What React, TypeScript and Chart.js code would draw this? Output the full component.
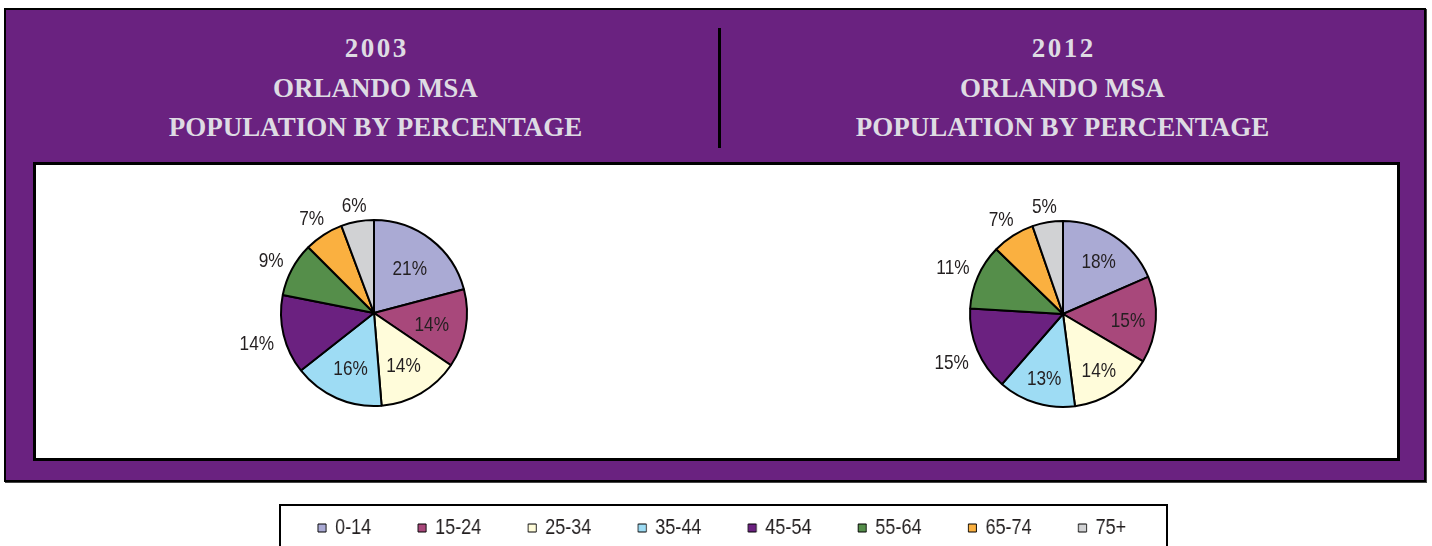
import React, { useEffect, useRef } from "react";
import { Chart, registerables } from "chart.js";

Chart.register(...registerables);

// ---------- data ----------
const AGE_GROUPS = ["0-14", "15-24", "25-34", "35-44", "45-54", "55-64", "65-74", "75+"];
const SHARE_2003 = [20.9, 13.6, 14.2, 15.7, 13.7, 9.4, 6.8, 5.7];
const SHARE_2012 = [18.4, 15.0, 14.4, 13.4, 14.5, 11.3, 7.4, 5.3];
const YEAR_2003 = "2003";
const YEAR_2012 = "2012";
const SUBTITLE_LINES = ["ORLANDO MSA", "POPULATION BY PERCENTAGE"];
const LABEL_PLACEMENT = ["inside", "inside", "inside", "inside", "outside", "outside", "outside", "outside"];

// ---------- styles ----------
const COLORS = ["#AAAAD4", "#A8487B", "#FFFCDA", "#9EDCF4", "#6B2180", "#558E4A", "#FAB040", "#D1D2D4"];
const PURPLE = "#6A2280";
const TITLE_COLOR = "#DEDBE3";
const LABEL_FONT = "'Liberation Sans', Arial, sans-serif";
const TEXT_COLOR = "#231F20";
const NARROW = 0.82; // horizontal squeeze to imitate a narrow sans face

function makeLabelPlugin(insideFactor: number) {
  return {
    id: "pieLabels",
    afterDatasetsDraw(chart: any) {
      const ctx = chart.ctx as CanvasRenderingContext2D;
      const meta = chart.getDatasetMeta(0);
      const values = chart.data.datasets[0].data as number[];
      const size = 21;
      const capH = size * 0.716;
      ctx.save();
      ctx.font = `${size}px ${LABEL_FONT}`;
      ctx.fillStyle = TEXT_COLOR;
      ctx.textAlign = "center";
      ctx.textBaseline = "alphabetic";
      meta.data.forEach((arc: any, i: number) => {
        const { x, y, startAngle, endAngle, outerRadius } = arc.getProps(
          ["x", "y", "startAngle", "endAngle", "outerRadius"],
          true
        );
        const a = (startAngle + endAngle) / 2;
        const text = `${Math.round(values[i])}%`;
        const w = ctx.measureText(text).width * NARROW;
        let d: number;
        if (LABEL_PLACEMENT[i] === "inside") {
          d = outerRadius * insideFactor;
        } else {
          d = outerRadius + 9 + (Math.abs(Math.cos(a)) * w) / 2 + (Math.abs(Math.sin(a)) * capH) / 2;
        }
        const lx = x + Math.cos(a) * d;
        const ly = y + Math.sin(a) * d;
        ctx.save();
        ctx.translate(lx, ly + capH / 2 + 1);
        ctx.scale(NARROW, 1);
        ctx.fillText(text, 0, 0);
        ctx.restore();
      });
      ctx.restore();
    },
  };
}

function PieChart({
  values,
  left,
  top,
  insideFactor,
}: {
  values: number[];
  left: number;
  top: number;
  insideFactor: number;
}) {
  const ref = useRef<HTMLCanvasElement>(null);
  useEffect(() => {
    const chart = new Chart(ref.current as HTMLCanvasElement, {
      type: "pie",
      data: {
        labels: AGE_GROUPS,
        datasets: [
          {
            data: values,
            backgroundColor: COLORS,
            borderColor: "#000",
            borderWidth: 2,
            hoverBorderWidth: 2,
          },
        ],
      },
      options: {
        responsive: false,
        animation: false,
        events: [],
        layout: { padding: { top: 46, bottom: 46, left: 0, right: 0 } },
        plugins: { legend: { display: false }, tooltip: { enabled: false }, title: { display: false } },
      },
      plugins: [makeLabelPlugin(insideFactor)],
    } as any);
    return () => chart.destroy();
  }, [values, insideFactor]);
  return (
    <canvas
      ref={ref}
      width={320}
      height={280}
      style={{ position: "absolute", left, top, width: 320, height: 280 }}
    />
  );
}

// Legend canvas is drawn at 1/NARROW width and squeezed back by CSS,
// which gives the narrow face of the original legend.
function LegendChart({ left, top }: { left: number; top: number }) {
  const ref = useRef<HTMLCanvasElement>(null);
  const cssW = 1000;
  const cssH = 300;
  const attrW = Math.round(cssW / NARROW);
  useEffect(() => {
    const ov: any = (Chart as any).overrides;
    const base =
      (ov.pie && ov.pie.plugins && ov.pie.plugins.legend && ov.pie.plugins.legend.labels.generateLabels) ||
      ov.doughnut.plugins.legend.labels.generateLabels;
    const chart = new Chart(ref.current as HTMLCanvasElement, {
      type: "pie",
      data: {
        labels: AGE_GROUPS,
        datasets: [{ data: SHARE_2003, backgroundColor: COLORS, borderWidth: 0, radius: 0 }],
      },
      options: {
        responsive: false,
        animation: false,
        events: [],
        radius: 0,
        plugins: {
          tooltip: { enabled: false },
          legend: {
            display: true,
            position: "top",
            align: "center",
            labels: {
              boxWidth: 10,
              boxHeight: 8,
              padding: 57,
              color: TEXT_COLOR,
              font: { size: 22, family: LABEL_FONT },
              generateLabels: (c: any) =>
                base(c).map((l: any) => ({ ...l, strokeStyle: "#000", lineWidth: 1 })),
            },
          },
        },
      },
    } as any);
    return () => chart.destroy();
  }, []);
  return (
    <canvas
      ref={ref}
      width={attrW}
      height={cssH}
      style={{ position: "absolute", left, top, width: cssW, height: cssH }}
    />
  );
}

function Title({ year, center }: { year: string; center: number }) {
  return (
    <div
      style={{
        position: "absolute",
        left: center - 350,
        top: 29,
        width: 700,
        textAlign: "center",
        fontFamily: "'Liberation Serif', 'Times New Roman', serif",
        fontWeight: "bold",
        fontSize: 27,
        lineHeight: "39.5px",
        color: TITLE_COLOR,
        whiteSpace: "nowrap",
      }}
    >
      <div style={{ letterSpacing: "2.5px", paddingLeft: "2.5px" }}>{year}</div>
      {SUBTITLE_LINES.map((l) => (
        <div key={l}>{l}</div>
      ))}
    </div>
  );
}

export default function App() {
  useEffect(() => {
    document.body.style.overflow = "hidden";
  }, []);
  return (
    <div
      style={{
        position: "fixed",
        left: 0,
        top: 0,
        width: 1432,
        height: 546,
        overflow: "hidden",
        background: "#fff",
      }}
    >
      <div
        style={{
          position: "absolute",
          left: 4,
          top: 8,
          width: 1422,
          height: 474,
          boxSizing: "border-box",
          background: PURPLE,
          border: "2px solid #000",
          boxShadow: "1px 1px 0 #444",
        }}
      />
      <Title year={YEAR_2003} center={375.5} />
      <Title year={YEAR_2012} center={1062.5} />
      <div style={{ position: "absolute", left: 718, top: 28, width: 3, height: 120, background: "#000" }} />
      <div
        style={{
          position: "absolute",
          left: 33,
          top: 162,
          width: 1367,
          height: 299,
          boxSizing: "border-box",
          background: "#fff",
          border: "3px solid #000",
        }}
      />
      <PieChart values={SHARE_2003} left={374 - 160} top={313 - 140} insideFactor={0.63} />
      <PieChart values={SHARE_2012} left={1063 - 160} top={314 - 140} insideFactor={0.7} />
      <div
        style={{
          position: "absolute",
          left: 279,
          top: 504,
          width: 889,
          height: 60,
          boxSizing: "border-box",
          background: "#fff",
          border: "2px solid #000",
        }}
      />
      <LegendChart left={722 - 500} top={460} />
    </div>
  );
}
